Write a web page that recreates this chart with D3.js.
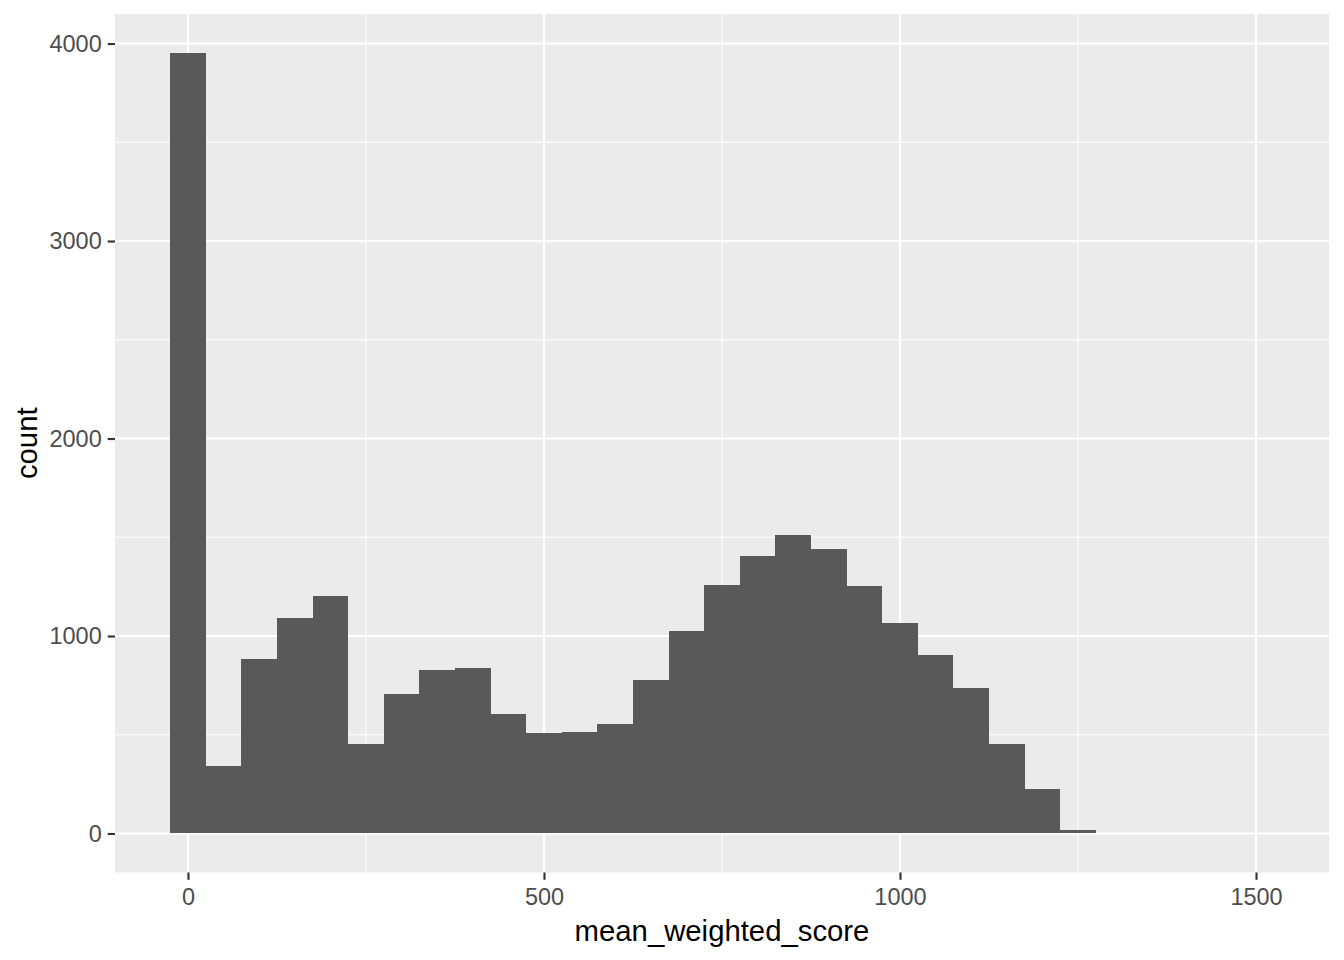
<!DOCTYPE html>
<html>
<head>
<meta charset="utf-8">
<script src="https://cdn.jsdelivr.net/npm/d3@7"></script>
<style>
  html, body { margin: 0; padding: 0; background: #ffffff; }
  svg { display: block; }
  text { font-family: "Liberation Sans", Arial, sans-serif; }
</style>
</head>
<body>
<svg id="chart" width="1344" height="960"></svg>
<script>
// Bin centres (binwidth 50) and counts
const binCenters = [0, 50, 100, 150, 200, 250, 300, 350, 400, 450, 500, 550, 600, 650, 700,
  750, 800, 850, 900, 950, 1000, 1050, 1100, 1150, 1200, 1250, 1300, 1350, 1400, 1450, 1500];
const counts = [3952, 344, 885, 1093, 1204, 452, 708, 830, 840, 607, 511, 516, 556, 779, 1027,
  1260, 1406, 1513, 1442, 1255, 1067, 906, 739, 455, 223, 20, 0, 0, 0, 0, 0];
const binWidth = 50;
const xTicks = [0, 500, 1000, 1500];
const xMinor = [250, 750, 1250];
const yTicks = [0, 1000, 2000, 3000, 4000];
const yMinor = [500, 1500, 2500, 3500];
const xTitle = "mean_weighted_score";
const yTitle = "count";

const bins = binCenters.map((c, i) => ({ x0: c - binWidth / 2, x1: c + binWidth / 2, n: counts[i] }));

const svg = d3.select("#chart");
const panel = { left: 115, right: 1329, top: 14, bottom: 872.5 };

const xMin = d3.min(bins, d => d.x0), xMax = d3.max(bins, d => d.x1);
const xPad = (xMax - xMin) * 0.05;
const x = d3.scaleLinear().domain([xMin - xPad, xMax + xPad]).range([panel.left, panel.right]);
const yMax = d3.max(counts);
const y = d3.scaleLinear().domain([-yMax * 0.05, yMax * 1.05]).range([panel.bottom, panel.top]);

// panel background
svg.append("rect")
  .attr("x", panel.left).attr("y", panel.top)
  .attr("width", panel.right - panel.left).attr("height", panel.bottom - panel.top)
  .attr("fill", "#EBEBEB");

const grid = svg.append("g");
// minor grid
grid.selectAll(".xminor").data(xMinor).enter().append("line")
  .attr("x1", d => x(d)).attr("x2", d => x(d))
  .attr("y1", panel.top).attr("y2", panel.bottom)
  .attr("stroke", "#ffffff").attr("stroke-width", 1.07);
grid.selectAll(".yminor").data(yMinor).enter().append("line")
  .attr("y1", d => y(d)).attr("y2", d => y(d))
  .attr("x1", panel.left).attr("x2", panel.right)
  .attr("stroke", "#ffffff").attr("stroke-width", 1.07);
// major grid
grid.selectAll(".xmajor").data(xTicks).enter().append("line")
  .attr("x1", d => x(d)).attr("x2", d => x(d))
  .attr("y1", panel.top).attr("y2", panel.bottom)
  .attr("stroke", "#ffffff").attr("stroke-width", 2.13);
grid.selectAll(".ymajor").data(yTicks).enter().append("line")
  .attr("y1", d => y(d)).attr("y2", d => y(d))
  .attr("x1", panel.left).attr("x2", panel.right)
  .attr("stroke", "#ffffff").attr("stroke-width", 2.13);

// bars
svg.append("g").attr("shape-rendering", "crispEdges")
  .selectAll("rect").data(bins.filter(d => d.n > 0)).enter().append("rect")
  .attr("x", d => x(d.x0))
  .attr("width", d => x(d.x1) - x(d.x0))
  .attr("y", d => y(d.n))
  .attr("height", d => y(0) - y(d.n))
  .attr("fill", "#595959");

// axes
const xAxis = d3.axisBottom(x).tickValues(xTicks).tickSize(7.3).tickPadding(9).tickFormat(d3.format("d"));
const gx = svg.append("g").attr("transform", `translate(0,${panel.bottom})`).call(xAxis);
gx.select(".domain").remove();
gx.selectAll(".tick line").attr("stroke", "#333333").attr("stroke-width", 2.13);
gx.selectAll(".tick text").attr("fill", "#4D4D4D").style("font-size", "23.5px")
  .attr("font-family", "Liberation Sans, Arial, sans-serif");

const yAxis = d3.axisLeft(y).tickValues(yTicks).tickSize(7.3).tickPadding(6).tickFormat(d3.format("d"));
const gy = svg.append("g").attr("transform", `translate(${panel.left},0)`).call(yAxis);
gy.select(".domain").remove();
gy.selectAll(".tick line").attr("stroke", "#333333").attr("stroke-width", 2.13);
gy.selectAll(".tick text").attr("fill", "#4D4D4D").style("font-size", "23.5px")
  .attr("font-family", "Liberation Sans, Arial, sans-serif");

// titles
svg.append("text")
  .attr("x", (panel.left + panel.right) / 2).attr("y", 941)
  .attr("text-anchor", "middle").attr("fill", "#000000")
  .style("font-size", "29.3px").text(xTitle);
svg.append("text")
  .attr("transform", `translate(37,${(panel.top + panel.bottom) / 2}) rotate(-90)`)
  .attr("text-anchor", "middle").attr("fill", "#000000")
  .style("font-size", "29.3px").text(yTitle);
</script>
</body>
</html>
